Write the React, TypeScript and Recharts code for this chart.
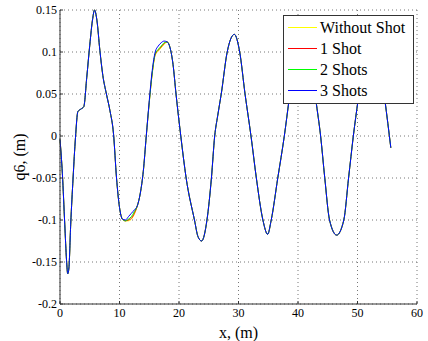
import { CartesianGrid, Legend, Line, LineChart, XAxis, YAxis } from 'recharts';

const xPos = [
  0, 0.4, 0.8, 1.1, 1.3, 1.5, 1.8, 2.2, 2.6, 3.0, 3.5, 4.0, 4.5, 5.0, 5.5, 5.8, 6.2, 6.7, 7.2, 7.8,
  8.4, 9.0, 9.5, 10.0, 10.5, 11.0, 11.5, 12.0, 12.5, 13.0, 13.5, 14.0, 14.5, 15.0, 15.5, 16.0, 16.5,
  17.0, 17.5, 18.0, 18.5, 19.0, 19.5, 20.3, 21.2, 22.6, 23.2, 23.8, 24.7, 25.45, 26.0, 26.5, 27.1,
  28.1, 29.3, 30.2, 31.1, 32.1, 33.0, 34.1, 34.9, 35.5, 36.6, 37.7, 38.5, 39.5, 40.8, 42.0, 43.0,
  43.8, 44.5, 45.3, 46.5, 47.7, 48.5, 49.3, 50.1, 51.0, 52.3, 53.6, 54.6, 55.6,
];

const withoutShot = [
  -0.004, -0.045, -0.105, -0.148, -0.164, -0.157, -0.105, -0.05, -0.002, 0.029, 0.032, 0.035, 0.07,
  0.108, 0.14, 0.15, 0.138, 0.102, 0.072, 0.05, 0.03, 0.002, -0.05, -0.085, -0.099, -0.101, -0.101,
  -0.099, -0.093, -0.083, -0.068, -0.042, 0, 0.04, 0.074, 0.096, 0.101, 0.105, 0.109, 0.112, 0.105,
  0.085, 0.05, 0, -0.05, -0.1, -0.12, -0.125, -0.1, -0.05, 0, 0.024, 0.05, 0.1, 0.121, 0.1, 0.05,
  0, -0.05, -0.1, -0.117, -0.1, -0.05, 0, 0.043, 0.095, 0.12, 0.1, 0.043, 0, -0.05, -0.1, -0.118,
  -0.1, -0.05, 0, 0.043, 0.09, 0.12, 0.095, 0.043, -0.014,
];

const oneShot = [
  -0.004, -0.045, -0.105, -0.148, -0.164, -0.157, -0.105, -0.05, -0.002, 0.029, 0.032, 0.035, 0.07,
  0.108, 0.14, 0.15, 0.138, 0.102, 0.072, 0.05, 0.03, 0.002, -0.05, -0.085, -0.099, -0.101, -0.1,
  -0.098, -0.092, -0.083, -0.068, -0.042, 0, 0.04, 0.075, 0.097, 0.102, 0.106, 0.11, 0.112, 0.105,
  0.085, 0.05, 0, -0.05, -0.1, -0.12, -0.125, -0.1, -0.05, 0, 0.024, 0.05, 0.1, 0.121, 0.1, 0.05,
  0, -0.05, -0.1, -0.117, -0.1, -0.05, 0, 0.043, 0.095, 0.12, 0.1, 0.043, 0, -0.05, -0.1, -0.118,
  -0.1, -0.05, 0, 0.043, 0.09, 0.12, 0.095, 0.043, -0.014,
];

const twoShots = [
  -0.004, -0.045, -0.105, -0.148, -0.164, -0.157, -0.105, -0.05, -0.002, 0.029, 0.032, 0.035, 0.07,
  0.108, 0.14, 0.15, 0.138, 0.102, 0.072, 0.05, 0.03, 0.002, -0.05, -0.085, -0.099, -0.101, -0.099,
  -0.096, -0.09, -0.083, -0.068, -0.042, 0, 0.04, 0.075, 0.098, 0.103, 0.107, 0.111, 0.112, 0.105,
  0.085, 0.05, 0, -0.05, -0.1, -0.12, -0.125, -0.1, -0.05, 0, 0.024, 0.05, 0.1, 0.121, 0.1, 0.05,
  0, -0.05, -0.1, -0.117, -0.1, -0.05, 0, 0.043, 0.095, 0.12, 0.1, 0.043, 0, -0.05, -0.1, -0.118,
  -0.1, -0.05, 0, 0.043, 0.09, 0.12, 0.095, 0.043, -0.014,
];

const threeShots = [
  -0.004, -0.045, -0.105, -0.148, -0.164, -0.157, -0.105, -0.05, -0.002, 0.029, 0.032, 0.035, 0.07,
  0.108, 0.14, 0.15, 0.138, 0.102, 0.072, 0.05, 0.03, 0.002, -0.05, -0.085, -0.099, -0.1, -0.096,
  -0.092, -0.088, -0.083, -0.068, -0.042, 0, 0.042, 0.078, 0.1, 0.107, 0.111, 0.113, 0.112, 0.105,
  0.085, 0.05, 0, -0.05, -0.1, -0.12, -0.125, -0.1, -0.05, 0, 0.024, 0.05, 0.1, 0.121, 0.1, 0.05,
  0, -0.05, -0.1, -0.117, -0.1, -0.05, 0, 0.043, 0.095, 0.12, 0.1, 0.043, 0, -0.05, -0.1, -0.118,
  -0.1, -0.05, 0, 0.043, 0.09, 0.12, 0.095, 0.043, -0.014,
];

const xTicks = [0, 10, 20, 30, 40, 50, 60];
const yTicks = [-0.2, -0.15, -0.1, -0.05, 0, 0.05, 0.1, 0.15];

const series = [
  { key: 'without', name: 'Without Shot', color: '#ffff00' },
  { key: 'one', name: '1 Shot', color: '#ff0000' },
  { key: 'two', name: '2 Shots', color: '#00ff00' },
  { key: 'three', name: '3 Shots', color: '#0000ff' },
];

const data = xPos.map((x, i) => ({
  x,
  without: withoutShot[i],
  one: oneShot[i],
  two: twoShots[i],
  three: threeShots[i],
}));

const font = '"Liberation Serif", "Times New Roman", serif';

// tick text drawn in serif like the Matlab figure
function Tick(props: any) {
  const { x, y, payload, textAnchor, verticalAnchor } = props;
  const dy = verticalAnchor === 'start' ? 10 : 4;
  return (
    <text x={x} y={y} dy={dy} textAnchor={textAnchor} fill="#000" fontSize={12} fontFamily={font}>
      {payload.value}
    </text>
  );
}

function LegendBox() {
  return (
    <div
      style={{
        border: '1px solid #333',
        background: '#fff',
        padding: '1px 4px 2px 4px',
        fontFamily: font,
        fontSize: 16,
        lineHeight: '21px',
        color: '#000',
      }}
    >
      {series.map((s) => (
        <div key={s.key} style={{ display: 'flex', alignItems: 'center', whiteSpace: 'nowrap' }}>
          <span style={{ display: 'inline-block', width: 29, height: 1, background: s.color, marginRight: 3 }} />
          {s.name}
        </div>
      ))}
    </div>
  );
}

export default function App() {
  return (
    <div style={{ position: 'absolute', left: 0, top: 0, fontFamily: font }}>
      <LineChart width={428} height={341} data={data} margin={{ top: 10, right: 11, left: 0, bottom: 0 }}>
        <CartesianGrid stroke="#777" strokeDasharray="1 3" />
        <XAxis
          dataKey="x"
          type="number"
          domain={[0, 60]}
          ticks={xTicks}
          height={37}
          stroke="#333"
          tickSize={-3}
          tickMargin={6}
          tick={<Tick />}
          label={{ value: 'x, (m)', position: 'insideBottom', offset: 3, fill: '#000', fontSize: 16, fontFamily: font }}
        />
        <YAxis
          type="number"
          domain={[-0.2, 0.15]}
          ticks={yTicks}
          width={60}
          stroke="#333"
          tickSize={-3}
          tickMargin={6}
          tick={<Tick />}
          label={{ value: 'q6, (m)', angle: -90, position: 'center', dx: -11, fill: '#000', fontSize: 16, fontFamily: font }}
        />
        <Legend
          layout="horizontal"
          verticalAlign="middle"
          align="center"
          wrapperStyle={{ left: 283, top: 15, width: 131 }}
          content={() => <LegendBox />}
        />
        {series.map((s) => (
          <Line
            key={s.key}
            type="monotone"
            dataKey={s.key}
            name={s.name}
            stroke={s.color}
            strokeWidth={1}
            dot={false}
            isAnimationActive={false}
          />
        ))}
      </LineChart>
    </div>
  );
}
